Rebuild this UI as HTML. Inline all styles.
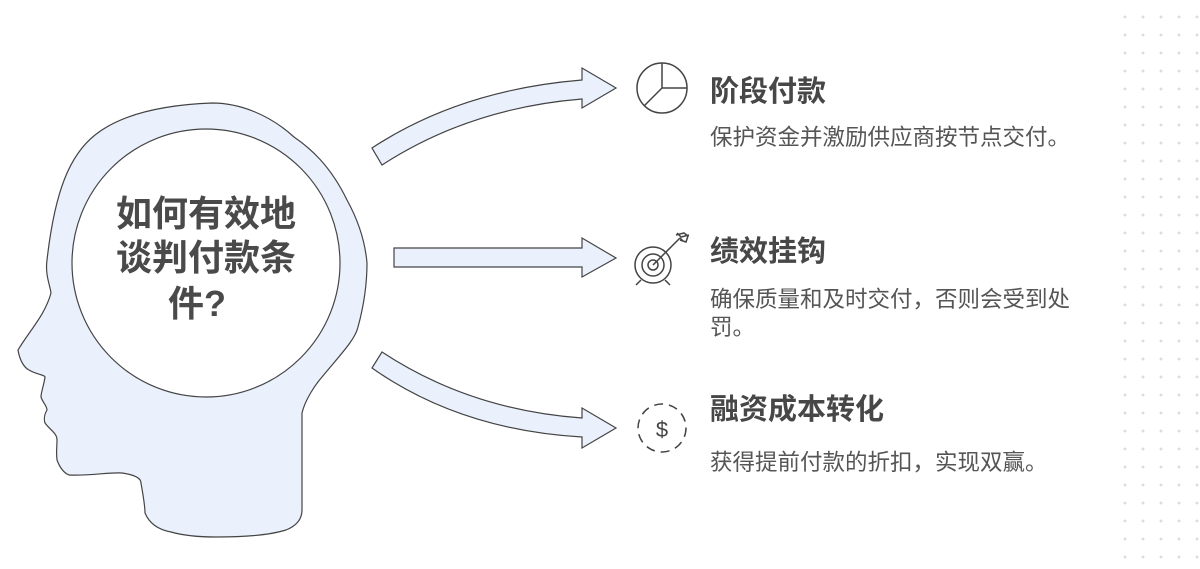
<!DOCTYPE html>
<html><head><meta charset="utf-8"><style>
body{margin:0;width:1200px;height:569px;background:#fff;overflow:hidden;position:relative;font-family:"Liberation Sans","Noto Sans CJK SC",sans-serif;color:#4a4a4a}
.t{position:absolute;left:710px;font-size:29px;line-height:34px;font-weight:bold;color:#474747;white-space:nowrap}
.d{position:absolute;left:710px;font-size:22.5px;line-height:28px;color:#555;width:368px}
.dots{position:absolute;left:1116px;top:8px;width:84px;height:561px;background-image:radial-gradient(circle,#ddd 1.3px,transparent 1.6px);background-size:18px 18px}
</style></head><body>
<div class="dots"></div>
<svg width="1200" height="569" style="position:absolute;left:0;top:0">
<path d="M212,103 C160,105 120,115 95,135 C70,155 55,190 47,260 C45,275 50,285 51,293 C45,315 30,330 18,350 C20,362 25,368 29,370 C35,374 45,375 45,377 C44,385 41,392 41,397 C43,403 47,406 47,410 C44,415 44,420 45,423 C50,430 57,433 57,440 C57,447 56,452 57,460 C60,468 64,473 69,475 C90,476 110,472 122,473 C135,475 141,478 141,483 C143,495 145,505 145,513 C150,525 160,530 171,532 C185,536 200,537 216,537 C245,537 270,535 286,530 C296,526 302,520 302,510 L302,413 C305,400 315,385 322,377 C340,355 355,340 358,327 C364,305 367,285 367,263 C365,240 358,220 347,200 C330,165 310,148 294,137 C270,115 240,103 212,103 Z" fill="#eaf1fd" stroke="#444" stroke-width="1.2"/>
<circle cx="206" cy="263" r="134" fill="#fff" stroke="#444" stroke-width="1.2"/>
<text text-anchor="middle" font-family="Liberation Sans,Noto Sans CJK SC,sans-serif" font-weight="bold" font-size="36" fill="#4a4a4a"><tspan x="206" y="226">如何有效地</tspan><tspan x="206" y="270">谈判付款条</tspan><tspan x="197" y="316">件?</tspan></text>
<g fill="#eaf1fd" stroke="#444" stroke-width="1.2">
<path d="M372,148 Q460,90 582,80 L582,68 L616,88 L582,108 L582,99 Q470,108 382,165 Z"/>
<path d="M394,248 L582,248 L582,238 L616,258 L582,277 L582,267 L394,267 Z"/>
<path d="M382,352 Q470,410 582,418 L582,408 L616,428 L582,448 L582,437 Q460,430 372,368 Z"/>
</g>
<g fill="none" stroke="#444" stroke-width="1.5">
<circle cx="662" cy="88" r="25"/><path d="M662,63 L662,88 L687,88 M662,88 L644,106"/>
<circle cx="653" cy="265" r="18"/><circle cx="653" cy="265" r="11"/><circle cx="653" cy="265" r="5"/>
<path d="M653,265 L680,238 M677,233 L681,237 L689,235 M683,241 L680,238 M676,235 L684,233 L688,236 L686,242 L680,240 M641,280 L636,285 M665,280 L670,285"/>
<circle cx="662" cy="428" r="24" stroke-dasharray="9 6"/>
</g>
<text x="662" y="437" text-anchor="middle" font-size="22" fill="#444" font-family="Liberation Sans,sans-serif">$</text>
</svg>
<div class="t" style="top:75px">阶段付款</div>
<div class="d" style="top:124px">保护资金并激励供应商按节点交付。</div>
<div class="t" style="top:235px">绩效挂钩</div>
<div class="d" style="top:286px">确保质量和及时交付，否则会受到处罚。</div>
<div class="t" style="top:393px">融资成本转化</div>
<div class="d" style="top:449px">获得提前付款的折扣，实现双赢。</div>
</body></html>
